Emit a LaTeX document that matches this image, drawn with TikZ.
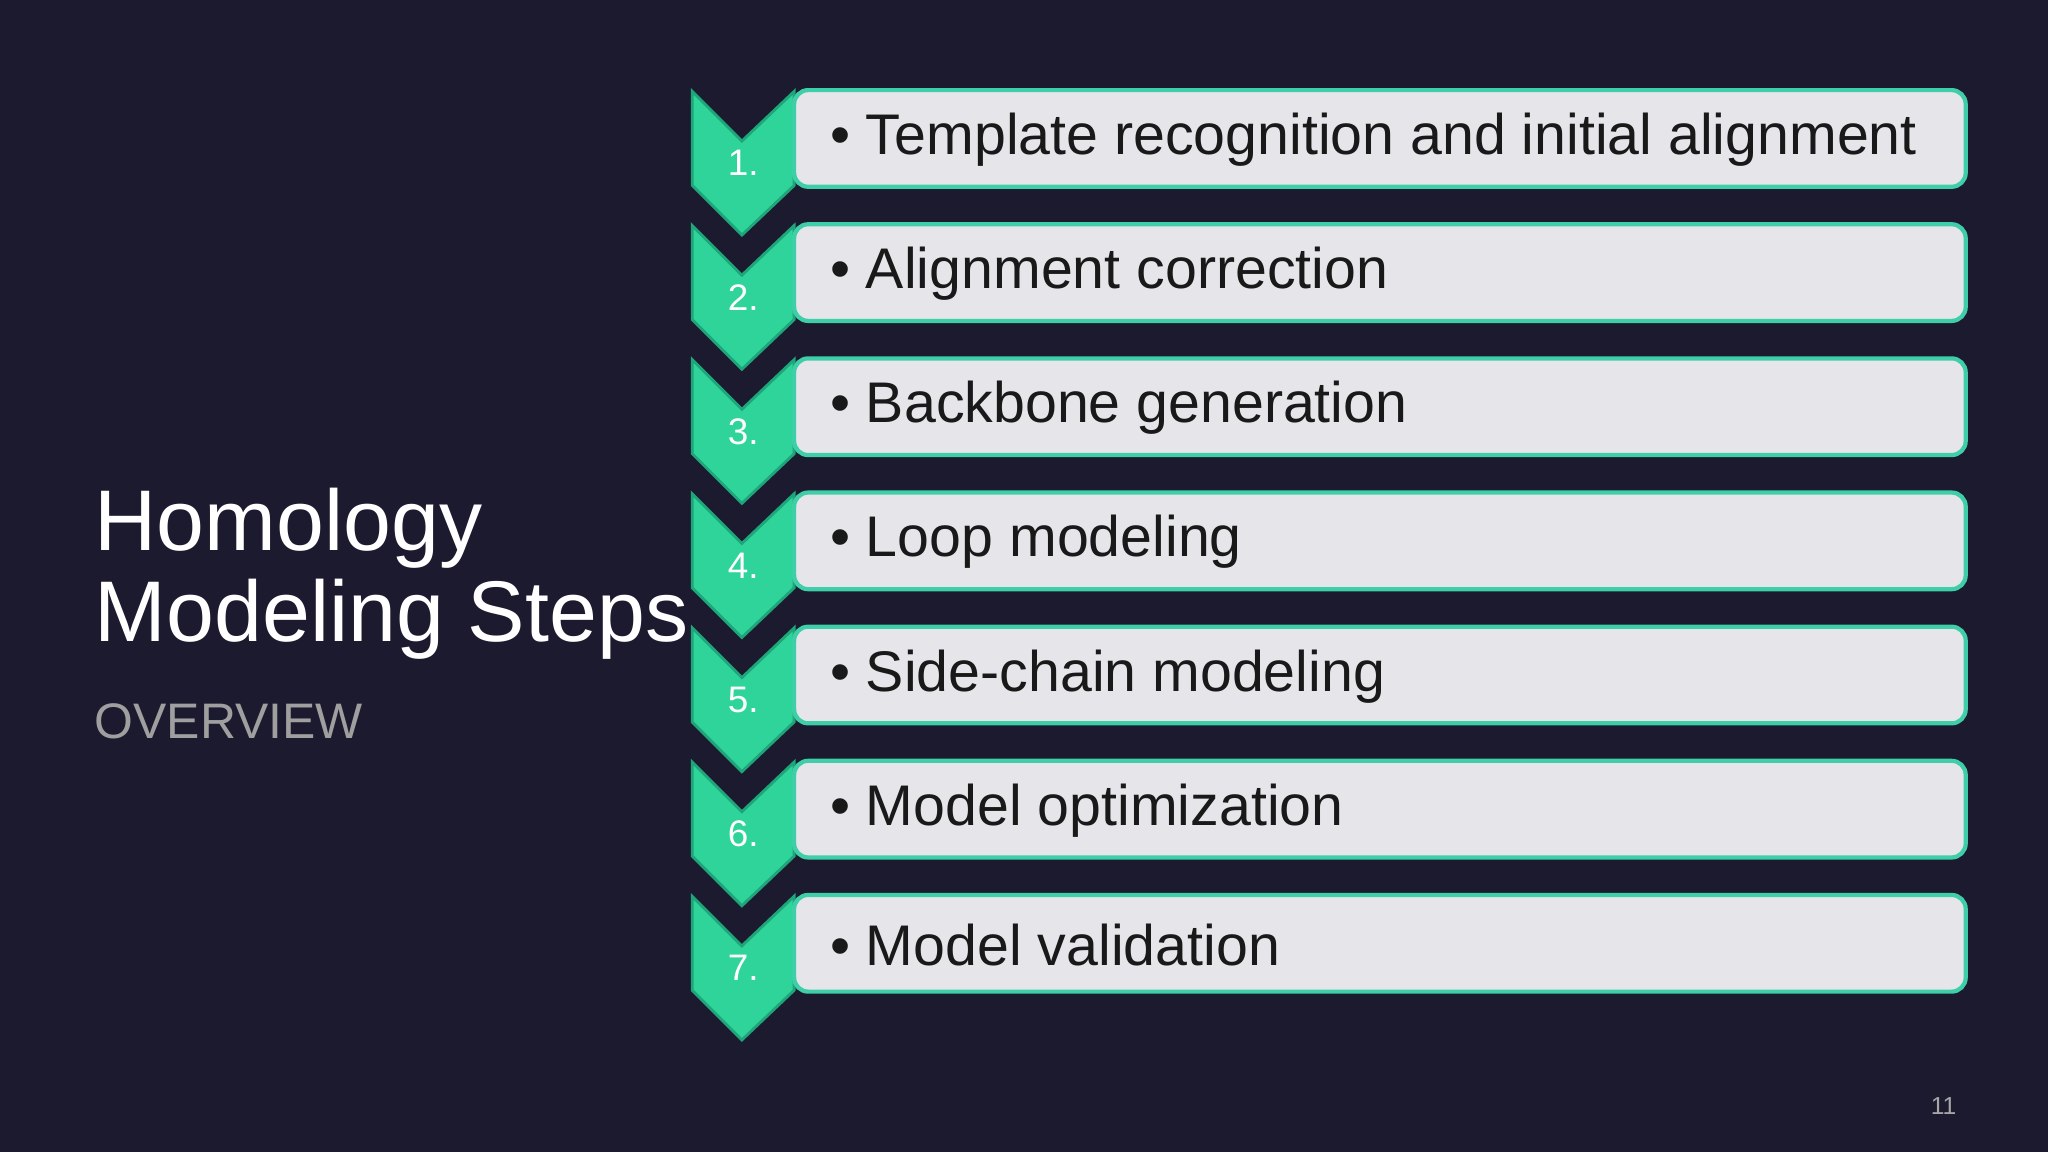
\documentclass[tikz,border=0pt]{standalone}
\usepackage{fontspec}
\setmainfont{Liberation Sans}
\usetikzlibrary{positioning, calc}
\definecolor{bgdark}{HTML}{1C1A2E}
\definecolor{chevgreen}{HTML}{2FD49A}
\definecolor{chevedge}{HTML}{1FA57A}
\definecolor{boxfill}{HTML}{E6E6EA}
\definecolor{boxedge}{HTML}{3FCFA8}
\begin{document}
\begin{tikzpicture}[
        x=0.013061cm, y=-0.013061cm,
        % --- styles ---
        stepbox/.style={
                draw=boxedge,
                line width=1.2pt,
                fill=boxfill,
                rounded corners=4pt
            },
        chevron/.style={
                draw=chevedge,
                line width=0.8pt,
                fill=chevgreen
            },
        steptext/.style={
                anchor=west,
                font=\fontsize{16.3}{19}\selectfont,
                text=black!90
            },
        stepnum/.style={
                font=\fontsize{10.5}{12}\selectfont,
                text=white
            }
    ]

    % 1. Background
    \fill[bgdark] (0,0) rectangle (1568,882);

    % 2. Title
    \node[anchor=north west, align=left, text=white,
        font=\fontsize{24.5}{26}\selectfont] (title) at (63,364)
        {Homology\\Modeling Steps};
    \node[anchor=west, text=gray!75, font=\fontsize{14.2}{16}\selectfont]
        (overview) at (63,552) {OVERVIEW};

    % 3. Steps
    \foreach \i/\txt in {1/Template recognition and initial alignment,
            2/Alignment correction, 3/Backbone generation, 4/Loop modeling,
            5/Side-chain modeling, 6/Model optimization, 7/Model validation}{
            \pgfmathsetmacro{\yt}{70+(\i-1)*102.7}
            \draw[chevron] (530,\yt) -- (568,\yt+38) -- (608,\yt)
                -- (608,\yt+72) -- (568,\yt+110) -- (530,\yt+72) -- cycle;
            \draw[stepbox] (608,\yt-1) rectangle (1505,\yt+73);
            \node[stepnum] (num\i) at (569,\yt+55) {\i.};
            \node[steptext] (step\i) at (626,\yt+37) {• \txt};
        }

    % 4. Page number
    \node[text=gray!70, font=\fontsize{7}{8}\selectfont] (page) at (1488,847) {11};

\end{tikzpicture}
\end{document}
